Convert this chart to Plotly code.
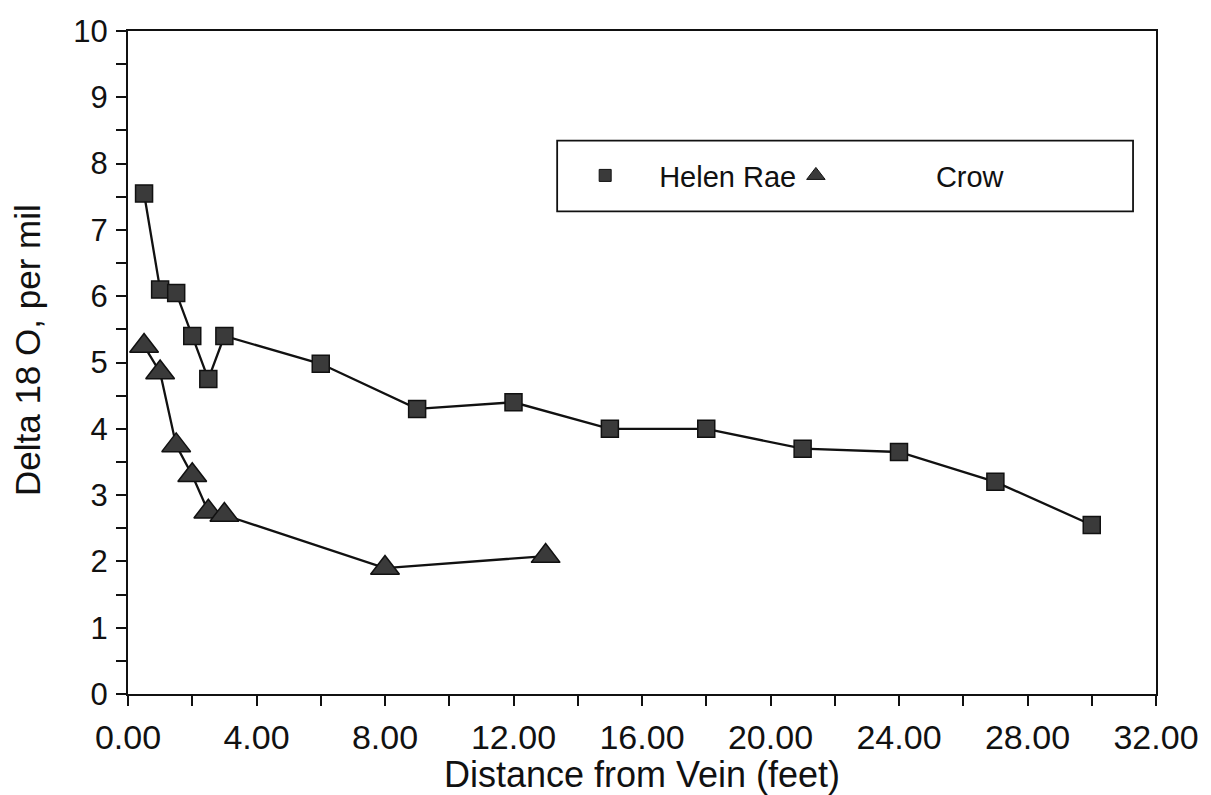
import plotly.graph_objects as go

# Distance from the vein (feet) and delta 18O (per mil) for each traverse
helen_rae_x = [0.5, 1.0, 1.5, 2.0, 2.5, 3.0, 6.0, 9.0, 12.0, 15.0, 18.0, 21.0, 24.0, 27.0, 30.0]
helen_rae_y = [7.55, 6.1, 6.05, 5.4, 4.75, 5.4, 4.98, 4.3, 4.4, 4.0, 4.0, 3.7, 3.65, 3.2, 2.55]

crow_x = [0.5, 1.0, 1.5, 2.0, 2.5, 3.0, 8.0, 13.0]
crow_y = [5.25, 4.85, 3.75, 3.3, 2.75, 2.7, 1.9, 2.08]

x_ticks = [0, 4, 8, 12, 16, 20, 24, 28, 32]
y_ticks = list(range(0, 11))

FONT = "Liberation Sans, Arial, sans-serif"
INK = "#111111"
MARK_FILL = "#3a3a3a"

W, H = 1211, 795
M_L, M_R, M_T, M_B = 128, 53, 31, 99
PLOT_W = W - M_L - M_R
PLOT_H = H - M_T - M_B


def px_to_paper_x(px):
    return (px - M_L) / PLOT_W


def px_to_paper_y(py):
    return (H - M_B - py) / PLOT_H


fig = go.Figure()

fig.add_trace(go.Scatter(
    x=helen_rae_x, y=helen_rae_y, mode="lines+markers", showlegend=False,
    line=dict(color=INK, width=2.3),
    marker=dict(symbol="square", size=17, color=MARK_FILL, line=dict(color=INK, width=1.5)),
))
fig.add_trace(go.Scatter(
    x=crow_x, y=crow_y, mode="lines+markers", showlegend=False,
    line=dict(color=INK, width=2.3),
    marker=dict(symbol="triangle-up", size=25, color=MARK_FILL, line=dict(color=INK, width=1.5)),
))

# Legend entries show the symbols only; each sits in its own legend group box
fig.add_trace(go.Scatter(
    x=[None], y=[None], mode="markers", name="Helen Rae", legend="legend",
    marker=dict(symbol="square", size=12, color=MARK_FILL, line=dict(color=INK, width=1)),
))
fig.add_trace(go.Scatter(
    x=[None], y=[None], mode="markers", name="Crow", legend="legend2",
    marker=dict(symbol="triangle-up", size=16, color=MARK_FILL, line=dict(color=INK, width=1)),
))

# Legend frame
fig.add_shape(
    type="rect", xref="paper", yref="paper",
    x0=px_to_paper_x(558), x1=px_to_paper_x(1135),
    y0=px_to_paper_y(212), y1=px_to_paper_y(141),
    line=dict(color=INK, width=1.8), fillcolor="rgba(0,0,0,0)", layer="above",
)

fig.add_annotation(
    text="Delta 18 O, per mil", xref="paper", yref="paper",
    x=0, y=px_to_paper_y(351), xanchor="center", yanchor="middle",
    xshift=-(M_L - 27), textangle=-90, showarrow=False,
    font=dict(size=35, family=FONT, color=INK),
)

legend_common = dict(
    orientation="h", xanchor="left", yanchor="middle",
    bgcolor="rgba(0,0,0,0)", borderwidth=0,
    font=dict(size=29, family=FONT, color=INK),
    itemsizing="trace",
)

fig.update_layout(
    width=W, height=H,
    margin=dict(l=M_L, r=M_R, t=M_T, b=M_B),
    paper_bgcolor="white", plot_bgcolor="white",
    font=dict(family=FONT, color=INK),
    legend=dict(x=px_to_paper_x(552), y=px_to_paper_y(176), itemwidth=98, **legend_common),
    legend2=dict(x=px_to_paper_x(697), y=px_to_paper_y(176), itemwidth=230, **legend_common),
)

fig.update_xaxes(
    range=[0, 32], tickvals=x_ticks, tickformat=".2f",
    showgrid=False, zeroline=False,
    showline=True, linecolor=INK, linewidth=2, mirror=True,
    ticks="outside", ticklen=10, tickwidth=1.5, tickcolor=INK,
    minor=dict(dtick=2, ticks="outside", ticklen=10, tickwidth=1.5, tickcolor=INK, showgrid=False),
    tickfont=dict(size=34, family=FONT, color=INK),
    ticklabelstandoff=2,
    title=dict(text="Distance from Vein (feet)", font=dict(size=36, family=FONT, color=INK), standoff=2),
)
fig.update_yaxes(
    range=[0, 10], tickvals=y_ticks,
    showgrid=False, zeroline=False,
    showline=True, linecolor=INK, linewidth=2, mirror=True,
    ticks="outside", ticklen=10, tickwidth=1.5, tickcolor=INK,
    minor=dict(dtick=0.5, ticks="outside", ticklen=10, tickwidth=1.5, tickcolor=INK, showgrid=False),
    tickfont=dict(size=31, family=FONT, color=INK),
    ticklabelstandoff=2,
)

fig.write_html("out.html")
